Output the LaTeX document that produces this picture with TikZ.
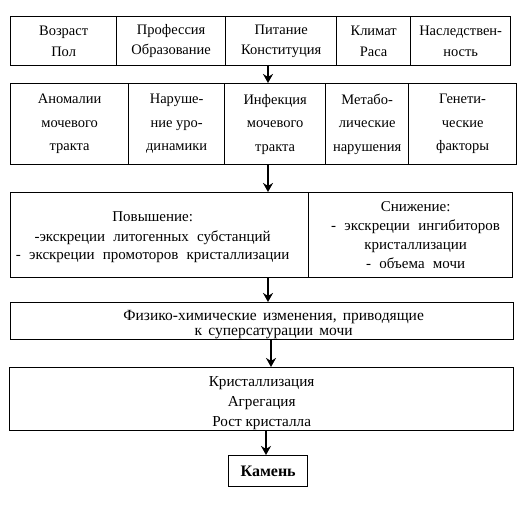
\documentclass[tikz,border=0pt]{standalone}
\usepackage{fontspec}
\setmainfont{Liberation Serif}
\usetikzlibrary{arrows.meta}
\newcommand{\wsp}[1]{\spaceskip=#1\relax}
\begin{document}
\begin{tikzpicture}[x=1pt,y=-1pt,
  cell/.style={draw, line width=1.3pt, anchor=north west, inner sep=0pt, align=center},
  fa/.style={font=\fontsize{14.5}{20.5}\selectfont},
  fb/.style={font=\fontsize{14.5}{23.5}\selectfont},
  fcl/.style={font=\fontsize{15}{18}\selectfont},
  fcr/.style={font=\fontsize{15}{19}\selectfont},
  fe/.style={font=\fontsize{15.5}{14.5}\selectfont},
  fd/.style={font=\fontsize{15.2}{20}\selectfont},
  arr/.style={line width=1.9pt, -{Stealth[length=9pt,width=10pt]}}]
\useasboundingbox (0,0) rectangle (519,532);
% row 1
\node[cell,fa,minimum width=106,minimum height=49] (r1c1) at (10,16) {Возраст\\Пол};
\node[cell,fa,minimum width=109,minimum height=49] (r1c2) at (116,16) {Профессия\\Образование};
\node[cell,fa,minimum width=111,minimum height=49] (r1c3) at (225,16) {Питание\\Конституция};
\node[cell,fa,minimum width=74,minimum height=49] (r1c4) at (336,16) {Климат\\Раса};
\node[cell,fa,minimum width=100,minimum height=49] (r1c5) at (410,16) {Наследствен-\\ность};
% row 2
\node[cell,fb,minimum width=118,minimum height=81] (r2c1) at (10,83) {Аномалии\\мочевого\\тракта};
\node[cell,fb,minimum width=96,minimum height=81] (r2c2) at (128,83) {Наруше-\\ние уро-\\динамики};
\node[cell,fb,minimum width=101,minimum height=81] (r2c3) at (224,83) {Инфекция\\мочевого\\тракта};
\node[cell,fb,minimum width=83,minimum height=81] (r2c4) at (325,83) {Метабо-\\лические\\нарушения};
\node[cell,fb,minimum width=108,minimum height=81] (r2c5) at (408,83) {Генети-\\ческие\\факторы};
% row 3
\node[cell,fcl,minimum width=298,minimum height=85] (r3c1) at (10,192) {\wsp{0.55em}\hspace*{-14pt}\rule{0pt}{14pt}Повышение:\\[2pt]\wsp{0.55em}\hspace*{-14pt}-экскреции литогенных субстанций\\\wsp{0.55em}\hspace*{-14pt}- экскреции промоторов кристаллизации};
\node[cell,fcr,minimum width=204,minimum height=85] (r3c2) at (308,192) {\wsp{0.55em}\hspace*{10pt}Снижение:\\\wsp{0.55em}\hspace*{10pt}- экскреции ингибиторов\\\wsp{0.55em}\hspace*{10pt}кристаллизации\\\wsp{0.55em}\hspace*{10pt}- объема мочи};
% row 4
\node[cell,fe,minimum width=503,minimum height=37] (r4) at (10,302) {\wsp{0.4em}\hspace*{23pt}\rule{0pt}{17pt}Физико-химические изменения, приводящие\\\wsp{0.4em}\hspace*{23pt}к суперсатурации мочи};
% row 5
\node[cell,fd,minimum width=504,minimum height=63] (r5) at (9,367) {\rule{0pt}{17pt}Кристаллизация\\Агрегация\\Рост кристалла};
% row 6
\node[cell,font=\fontsize{16}{18}\selectfont\bfseries,minimum width=79,minimum height=31] (r6) at (228,455) {Камень};
% arrows
\coordinate (a1) at (268,65);
\coordinate (a2) at (268,164);
\coordinate (a3) at (268,277);
\coordinate (a4) at (271,339);
\coordinate (a5) at (266,430);
\draw[arr] (a1) -- (a1 |- r2c3.north);
\draw[arr] (a2) -- (a2 |- r3c1.north);
\draw[arr] (a3) -- (a3 |- r4.north);
\draw[arr] (a4) -- (a4 |- r5.north);
\draw[arr] (a5) -- (a5 |- r6.north);
\end{tikzpicture}
\end{document}
